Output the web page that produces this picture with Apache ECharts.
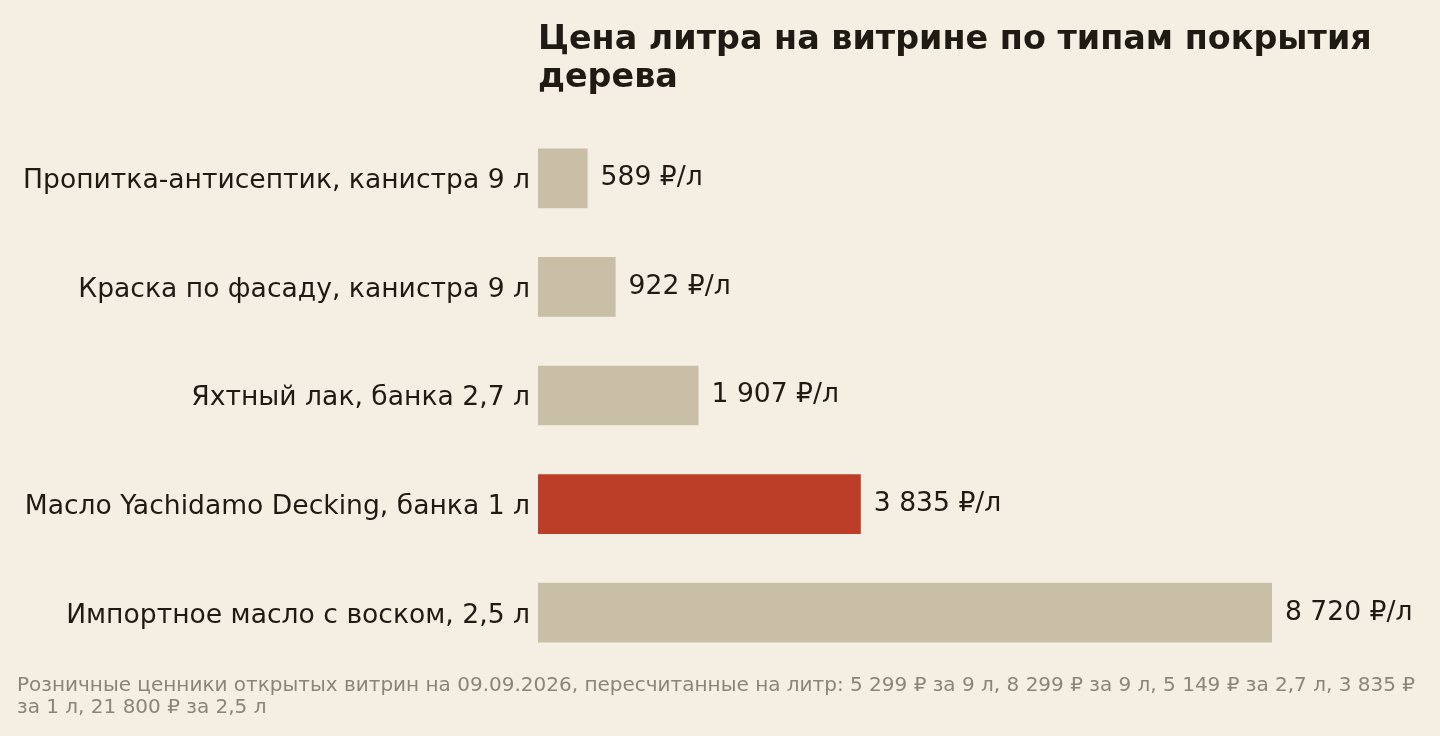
<!DOCTYPE html>
<html>
<head>
<meta charset="utf-8">
<script src="https://cdn.jsdelivr.net/npm/echarts@6/dist/echarts.min.js"></script>
<style>
html, body { margin: 0; padding: 0; background: #F5EFE3; }
#main { width: 1440px; height: 736px; }
</style>
</head>
<body>
<div id="main"></div>
<script>
var categories = [
    'Пропитка-антисептик, канистра 9 л',
    'Краска по фасаду, канистра 9 л',
    'Яхтный лак, банка 2,7 л',
    'Масло Yachidamo Decking, банка 1 л',
    'Импортное масло с воском, 2,5 л'
];
var pricePerLitre = [589, 922, 1907, 3835, 8720];
var highlightIndex = 3;

var chartDom = document.getElementById('main');
var myChart = echarts.init(chartDom);

function fmt(v) {
    return String(v).replace(/\B(?=(\d{3})+(?!\d))/g, ' ') + ' ₽/л';
}

var option = {
    backgroundColor: '#F5EFE3',
    textStyle: { fontFamily: 'DejaVu Sans' },
    title: [
        {
            text: 'Цена литра на витрине по типам покрытия\nдерева',
            left: 533,
            top: 16,
            textStyle: {
                fontFamily: 'DejaVu Sans',
                fontWeight: 'bold',
                fontSize: 33.4,
                lineHeight: 38,
                color: '#1F1B14'
            }
        },
        {
            text: 'Розничные ценники открытых витрин на 09.09.2026, пересчитанные на литр: 5 299 ₽ за 9 л, 8 299 ₽ за 9 л, 5 149 ₽ за 2,7 л, 3 835 ₽\nза 1 л, 21 800 ₽ за 2,5 л',
            left: 12,
            top: 670,
            textStyle: {
                fontFamily: 'DejaVu Sans',
                fontWeight: 'normal',
                fontSize: 20,
                lineHeight: 22,
                color: '#8A857A'
            }
        }
    ],
    grid: {
        left: 538,
        right: 168,
        top: 124,
        bottom: 69,
        containLabel: false
    },
    xAxis: {
        type: 'value',
        min: 0,
        max: 8720,
        show: false
    },
    yAxis: {
        type: 'category',
        inverse: true,
        data: categories,
        axisLine: { show: false },
        axisTick: { show: false },
        axisLabel: {
            margin: 8,
            formatter: function (v) { return '{c|' + v + '}'; },
            rich: {
                c: {
                    fontSize: 26.6,
                    padding: [6, 0, 0, 0],
                    color: '#1F1B14',
                    fontFamily: 'DejaVu Sans'
                }
            }
        }
    },
    series: [
        {
            type: 'bar',
            barWidth: '55%',
            data: pricePerLitre.map(function (v, i) {
                return {
                    value: v,
                    itemStyle: { color: i === highlightIndex ? '#BC3D28' : '#C9BFA7' }
                };
            }),
            label: {
                show: true,
                position: 'right',
                distance: 13,
                fontSize: 26.6,
                color: '#1F1B14',
                fontFamily: 'DejaVu Sans',
                formatter: function (p) { return fmt(p.value); }
            },
            silent: true
        }
    ]
};
myChart.setOption(option);
</script>
</body>
</html>
